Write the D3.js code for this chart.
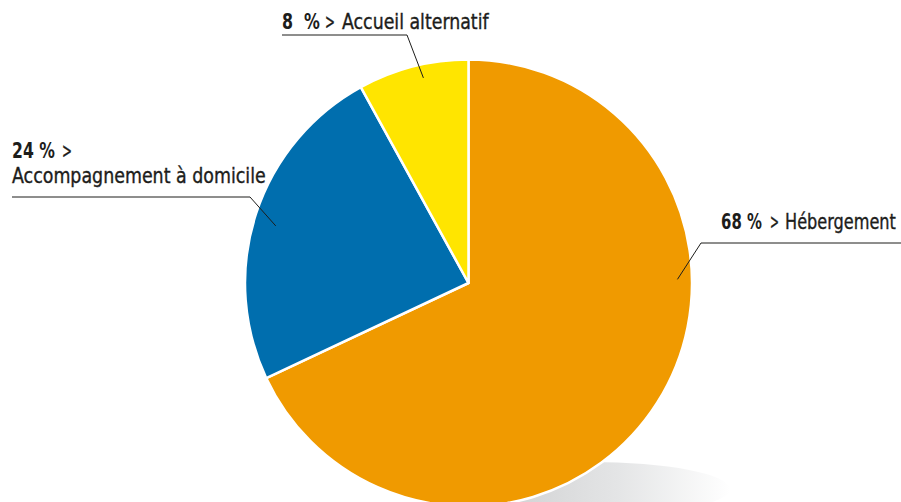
<!DOCTYPE html>
<html>
<head>
<meta charset="utf-8">
<script src="https://cdn.jsdelivr.net/npm/d3@7"></script>
<style>
  body { margin: 0; background: #fff; }
  svg { display: block; }
  text { font-family: "DejaVu Sans Condensed", "Liberation Sans Narrow", sans-serif; fill: #1d1d1b; }
</style>
</head>
<body>
<div id="chart"></div>
<script>
// chart data
const categories = ["Hébergement", "Accompagnement à domicile", "Accueil alternatif"];
const values = [68, 24, 8];
const valueLabels = ["68 %", "24 %", "8  %"];
const colors = ["#f09a00", "#006eae", "#ffe500"];

const width = 901, height = 502;
const cx = 468.5, cy = 283, radius = 223.5;

const svg = d3.select("#chart").append("svg")
  .attr("width", width)
  .attr("height", height);

// soft shadow under the pie
const defs = svg.append("defs");
const grad = defs.append("linearGradient").attr("id", "shadow")
  .attr("x1", "0%").attr("x2", "100%").attr("y1", "0%").attr("y2", "0%");
grad.append("stop").attr("offset", "0%").attr("stop-color", "#c8c9ca");
grad.append("stop").attr("offset", "60%").attr("stop-color", "#e4e5e6");
grad.append("stop").attr("offset", "100%").attr("stop-color", "#ffffff");
svg.append("ellipse")
  .attr("cx", 590).attr("cy", 489)
  .attr("rx", 140).attr("ry", 27)
  .attr("fill", "url(#shadow)");

const pie = d3.pie().sort(null).value(d => d);
const arc = d3.arc().innerRadius(0).outerRadius(radius);

const g = svg.append("g").attr("transform", `translate(${cx},${cy})`);

g.selectAll("path")
  .data(pie(values))
  .enter()
  .append("path")
  .attr("d", arc)
  .attr("fill", (d, i) => colors[i])
  .attr("stroke", "#fff")
  .attr("stroke-width", 2.5)
  .attr("stroke-linejoin", "round");

// label layout per slice
const labels = [
  { ang: 89, r: 209, elbow: [701, 243], end: 901,
    parts: [ { v: true, x: 721, w: 41, y: 229 }, { gt: true, x: 770, w: 9, y: 229 }, { c: true, x: 785, w: 111, y: 229 } ] },
  { ang: 286.5, r: 201, elbow: [250, 197], end: 12,
    parts: [ { v: true, x: 12, w: 43, y: 158 }, { gt: true, x: 62, w: 10, y: 158 }, { c: true, x: 12, w: 254, y: 183 } ] },
  { ang: 347.6, r: 210, elbow: [407, 35], end: 282,
    parts: [ { v: true, x: 282, w: 38, y: 29 }, { gt: true, x: 325, w: 10, y: 29 }, { c: true, x: 342, w: 148, y: 29 } ] }
];

labels.forEach((l, i) => {
  const a = l.ang * Math.PI / 180;
  const px = cx + l.r * Math.sin(a);
  const py = cy - l.r * Math.cos(a);
  svg.append("polyline")
    .attr("points", `${px},${py} ${l.elbow[0]},${l.elbow[1]} ${l.end},${l.elbow[1]}`)
    .attr("fill", "none")
    .attr("stroke", "#1d1d1b")
    .attr("stroke-width", 1);

  l.parts.forEach(p => {
    const t = svg.append("text")
      .attr("font-size", 21)
      .style("white-space", "pre");
    if (p.v) {
      t.attr("font-weight", "bold").text(valueLabels[i].trim());
    } else {
      t.attr("stroke", "#1d1d1b").attr("stroke-width", 0.35)
        .text(p.gt ? ">" : categories[i]);
    }
    // squeeze horizontally to the narrow look of the original type
    const bb = t.node().getBBox();
    const sx = p.w / bb.width;
    t.attr("transform", `translate(${p.x - bb.x * sx},${p.y}) scale(${sx},1)`);
  });
});
</script>
</body>
</html>
